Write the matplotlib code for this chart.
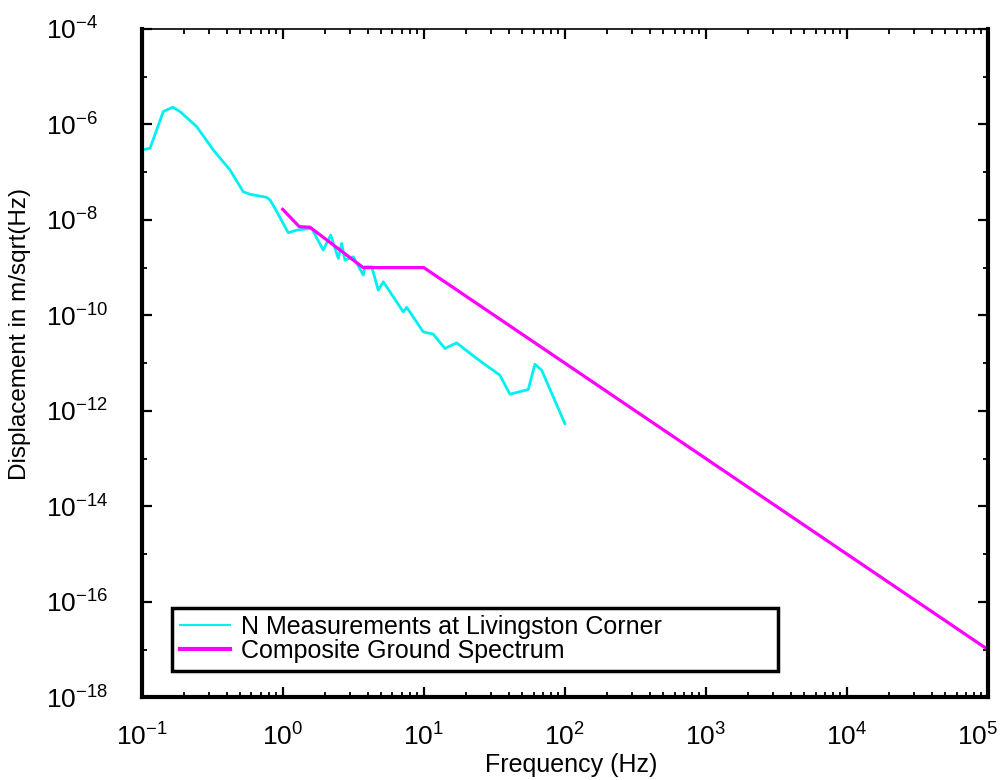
import numpy as np
import matplotlib
matplotlib.use('Agg')
import matplotlib.pyplot as plt
from matplotlib.ticker import FixedLocator, NullFormatter
from matplotlib.transforms import ScaledTranslation

plt.rcParams['font.family'] = ['Liberation Sans', 'DejaVu Sans']
plt.rcParams['mathtext.fontset'] = 'custom'
plt.rcParams['mathtext.rm'] = 'Liberation Sans'
plt.rcParams['mathtext.it'] = 'Liberation Sans:italic'

meas_freq = [0.100, 0.1146, 0.1422, 0.166, 0.187, 0.2455, 0.322, 0.4227, 0.5248, 0.586,
             0.769, 0.813, 0.881, 1.094, 1.256, 1.603, 1.936, 2.188, 2.477, 2.618,
             2.761, 3.162, 3.724, 3.828, 4.276, 4.753, 5.164, 7.161, 7.568, 9.908,
             11.67, 14.13, 17.10, 23.71, 34.67, 40.83, 55.08, 61.38, 68.55, 100.0]
meas_disp = [2.90e-7, 3.16e-7, 1.85e-6, 2.29e-6, 1.85e-6, 8.95e-7, 2.90e-7, 1.11e-7, 3.88e-8, 3.43e-8,
             2.96e-8, 2.60e-8, 1.74e-8, 5.37e-9, 6.11e-9, 6.64e-9, 2.33e-9, 4.80e-9, 1.56e-9, 3.21e-9,
             1.44e-9, 1.68e-9, 6.97e-10, 1.04e-9, 1.04e-9, 3.37e-10, 5.04e-10, 1.18e-10, 1.47e-10, 4.51e-11,
             4.04e-11, 2.02e-11, 2.65e-11, 1.25e-11, 5.57e-12, 2.23e-12, 2.80e-12, 9.48e-12, 7.10e-12, 5.42e-13]

# composite ground spectrum
comp_freq = [1.0, 1.31, 1.56, 3.72, 10.0, 1e5]
comp_disp = [1.66e-8, 7.2e-9, 7.0e-9, 1.0e-9, 1.0e-9, 1.0e-17]

x_major = [1e-1, 1e0, 1e1, 1e2, 1e3, 1e4, 1e5]
x_labels = [r'$10^{-1}$', r'$10^{0}$', r'$10^{1}$', r'$10^{2}$', r'$10^{3}$', r'$10^{4}$', r'$10^{5}$']
y_major = [1e-18, 1e-16, 1e-14, 1e-12, 1e-10, 1e-8, 1e-6, 1e-4]
y_labels = [r'$10^{-18}$', r'$10^{-16}$', r'$10^{-14}$', r'$10^{-12}$', r'$10^{-10}$', r'$10^{-8}$', r'$10^{-6}$', r'$10^{-4}$']
y_minor = [1e-17, 1e-15, 1e-13, 1e-11, 1e-9, 1e-7, 1e-5]

fig = plt.figure(figsize=(10.05, 7.8), dpi=100)
ax = fig.add_axes([0.141, 0.106, 0.842, 0.857])

ax.plot(meas_freq, meas_disp, color='#00f0f0', lw=2.0, label='N Measurements at Livingston Corner')
ax.plot(comp_freq, comp_disp, color='#ff00ff', lw=2.3, label='Composite Ground Spectrum')

ax.set_xscale('log')
ax.set_yscale('log')
ax.set_xlim(1e-1, 1e5)
ax.set_ylim(1e-18, 1e-4)

ax.xaxis.set_major_locator(FixedLocator(x_major))
ax.set_xticklabels(x_labels)
x_minor = [m * 10.0 ** e for e in range(-1, 5) for m in range(2, 10)]
ax.xaxis.set_minor_locator(FixedLocator(x_minor))
ax.xaxis.set_minor_formatter(NullFormatter())

ax.yaxis.set_major_locator(FixedLocator(y_major))
ax.set_yticklabels(y_labels)
ax.yaxis.set_minor_locator(FixedLocator(y_minor))
ax.yaxis.set_minor_formatter(NullFormatter())

ax.tick_params(which='both', direction='in', top=True, right=True)
ax.tick_params(which='major', length=7, width=1.6)
ax.tick_params(which='minor', length=3.5, width=1.3)
ax.tick_params(axis='x', which='major', labelsize=19, pad=19)
ax.tick_params(axis='y', which='major', labelsize=19, pad=69)
for lab in ax.get_yticklabels():
    lab.set_horizontalalignment('left')
# keep the last x label inside the figure
last = ax.get_xticklabels()[-1]
last.set_transform(last.get_transform() + ScaledTranslation(-0.1, 0, fig.dpi_scale_trans))

for side in ['left', 'bottom', 'right']:
    ax.spines[side].set_linewidth(3)
ax.spines['top'].set_linewidth(1.2)

ax.set_xlabel('Frequency (Hz)', fontsize=18)
ax.xaxis.set_label_coords(0.507, -0.084)
ax.set_ylabel('Displacement in m/sqrt(Hz)', fontsize=17.5)
ax.yaxis.set_label_coords(-0.131, 0.544)

leg = ax.legend(loc='lower left', bbox_to_anchor=(0.036, 0.040, 0.716, 0.114), mode='expand',
                fontsize=18, frameon=True, fancybox=False, framealpha=1, edgecolor='black',
                borderpad=0.3, labelspacing=0.0, handlelength=2.0, handletextpad=0.45,
                borderaxespad=0)
leg.get_frame().set_linewidth(2.5)
leg.get_lines()[0].set_linewidth(1.5)
leg.get_lines()[1].set_linewidth(3)

fig.savefig('out.png', dpi=100)
